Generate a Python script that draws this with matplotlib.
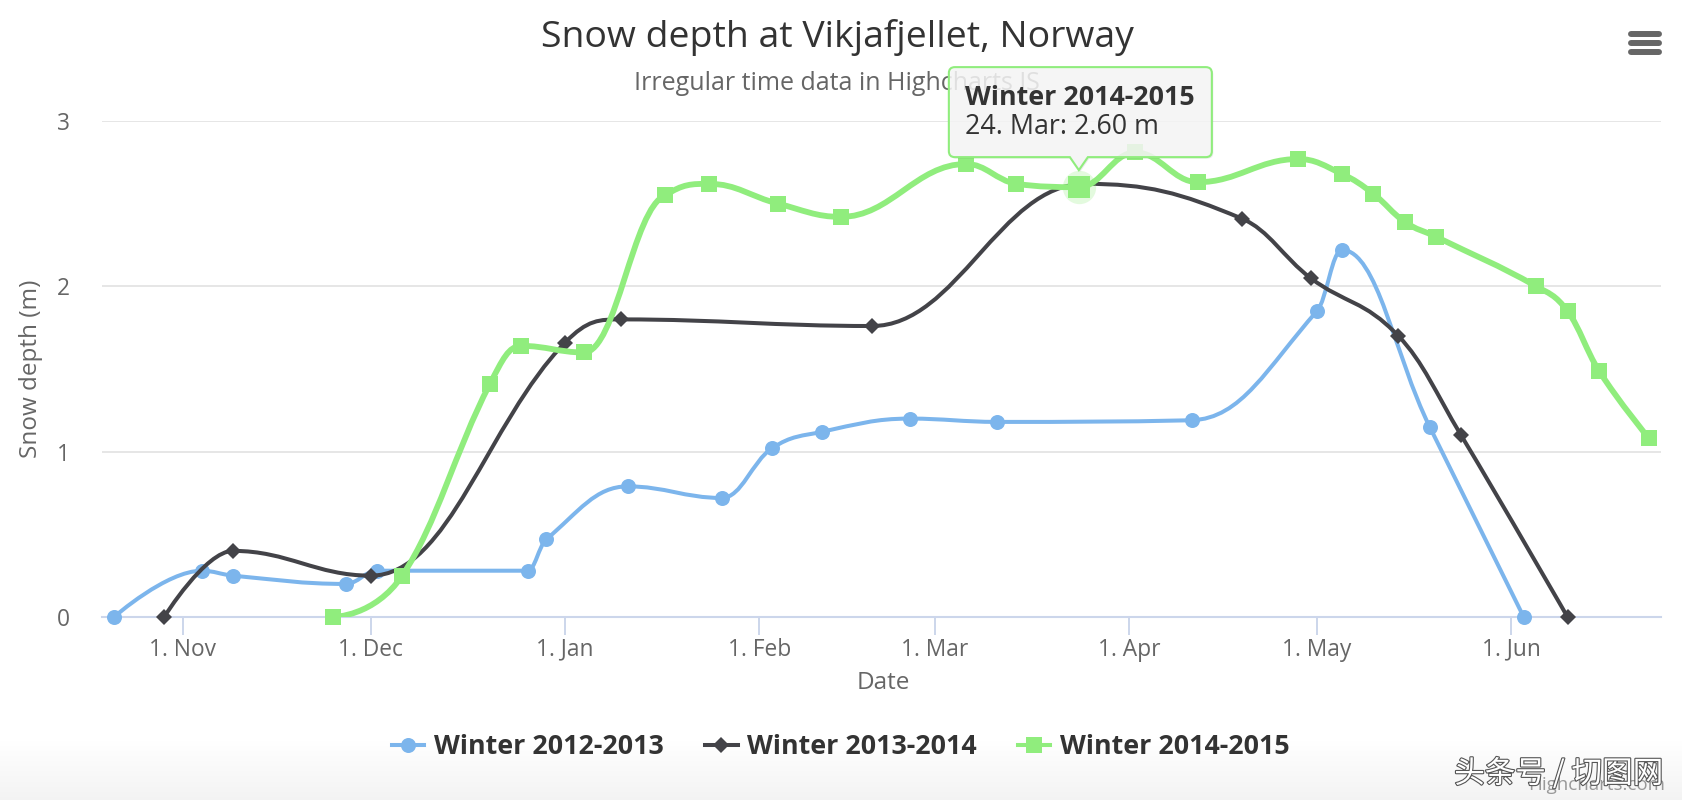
import numpy as np
import pandas as pd
import matplotlib
matplotlib.use('Agg')
import matplotlib.pyplot as plt
import matplotlib.dates as mdates
import matplotlib.patheffects as pe
from matplotlib.path import Path
from matplotlib.patches import PathPatch
from matplotlib.lines import Line2D
from matplotlib.transforms import IdentityTransform

plt.rcParams['font.family'] = ['Open Sans', 'DejaVu Sans']

# data (dates as in the Highcharts demo: year 1970/1971)
dates_1213 = ['1970-10-21', '1970-11-04', '1970-11-09', '1970-11-27', '1970-12-02',
              '1970-12-26', '1970-12-29', '1971-01-11', '1971-01-26', '1971-02-03',
              '1971-02-11', '1971-02-25', '1971-03-11', '1971-04-11', '1971-05-01',
              '1971-05-05', '1971-05-19', '1971-06-03']
depth_1213 = [0, 0.28, 0.25, 0.2, 0.28, 0.28, 0.47, 0.79, 0.72, 1.02,
              1.12, 1.2, 1.18, 1.19, 1.85, 2.22, 1.15, 0]

dates_1314 = ['1970-10-29', '1970-11-09', '1970-12-01', '1971-01-01', '1971-01-10',
              '1971-02-19', '1971-03-25', '1971-04-19', '1971-04-30', '1971-05-14',
              '1971-05-24', '1971-06-10']
depth_1314 = [0, 0.4, 0.25, 1.66, 1.8, 1.76, 2.62, 2.41, 2.05, 1.7, 1.1, 0]

dates_1415 = ['1970-11-25', '1970-12-06', '1970-12-20', '1970-12-25', '1971-01-04',
              '1971-01-17', '1971-01-24', '1971-02-04', '1971-02-14', '1971-03-06',
              '1971-03-14', '1971-03-24', '1971-04-02', '1971-04-12', '1971-04-28',
              '1971-05-05', '1971-05-10', '1971-05-15', '1971-05-20', '1971-06-05',
              '1971-06-10', '1971-06-15', '1971-06-23']
depth_1415 = [0, 0.25, 1.41, 1.64, 1.6, 2.55, 2.62, 2.5, 2.42, 2.74, 2.62, 2.6,
              2.81, 2.63, 2.77, 2.68, 2.56, 2.39, 2.3, 2, 1.85, 1.49, 1.08]

series_names = ['Winter 2012-2013', 'Winter 2013-2014', 'Winter 2014-2015']
series_colors = ['#7cb5ec', '#434348', '#90ed7d']
hover_index = 11  # point under the tooltip in the last series


def spline_path(xs, ys, smoothing=1.5):
    # same control point rule as the Highcharts spline series
    n = len(xs)
    lc = [None] * n
    rc = [None] * n
    den = smoothing + 1
    for i in range(1, n - 1):
        px, py = xs[i], ys[i]
        lx, ly = xs[i - 1], ys[i - 1]
        nx, ny = xs[i + 1], ys[i + 1]
        lcx = (smoothing * px + lx) / den
        lcy = (smoothing * py + ly) / den
        rcx = (smoothing * px + nx) / den
        rcy = (smoothing * py + ny) / den
        if rcx != lcx:
            corr = (rcy - lcy) * (rcx - px) / (rcx - lcx) + py - rcy
            lcy += corr
            rcy += corr
        if lcy > ly and lcy > py:
            lcy = max(ly, py)
            rcy = 2 * py - lcy
        elif lcy < ly and lcy < py:
            lcy = min(ly, py)
            rcy = 2 * py - lcy
        if rcy > ny and rcy > py:
            rcy = max(ny, py)
            lcy = 2 * py - rcy
        elif rcy < ny and rcy < py:
            rcy = min(ny, py)
            lcy = 2 * py - rcy
        lc[i] = (lcx, lcy)
        rc[i] = (rcx, rcy)
    verts = [(xs[0], ys[0])]
    codes = [Path.MOVETO]
    for i in range(1, n):
        c1 = rc[i - 1] if rc[i - 1] else (xs[i - 1], ys[i - 1])
        c2 = lc[i] if lc[i] else (xs[i], ys[i])
        verts += [c1, c2, (xs[i], ys[i])]
        codes += [Path.CURVE4] * 3
    return Path(verts, codes)


W, H = 1682, 800
fig = plt.figure(figsize=(W / 100, H / 100), dpi=100)
fig.patch.set_facecolor('white')

# faint grey fade at the bottom of the screenshot
band = fig.add_axes([0, 0, 1, 60 / H], zorder=-5)
shade = np.linspace(1.0, 0.955, 60)
band.imshow(np.dstack([shade, shade, shade]).reshape(-1, 1, 3), aspect='auto',
            extent=[0, 1, 0, 1])
band.set_axis_off()

ax = fig.add_axes([102 / W, 1 - 617 / H, 1559 / W, 496 / H])
ax.set_facecolor('none')

all_dates = [dates_1213, dates_1314, dates_1415]
all_depths = [depth_1213, depth_1314, depth_1415]
markers = ['o', 'D', 's']
msizes = [10.8, 8.2, 11.5]
lwidths = [2.9, 2.9, 4.2]

for k in range(3):
    x = mdates.date2num(pd.to_datetime(all_dates[k]))
    y = np.array(all_depths[k], dtype=float)
    ax.add_patch(PathPatch(spline_path(x, y), fill=False, edgecolor=series_colors[k],
                           lw=lwidths[k], capstyle='round', joinstyle='round',
                           zorder=3 + k))
    ax.plot(x, y, linestyle='none', marker=markers[k], ms=msizes[k],
            color=series_colors[k], mew=0, zorder=3 + k, clip_on=False)

# hovered point: halo + bigger square
hx = mdates.date2num(pd.to_datetime(dates_1415[hover_index]))
hy = depth_1415[hover_index]
ax.plot([hx], [hy], marker='o', ms=24, color=series_colors[2], alpha=0.25, mew=0,
        zorder=7, linestyle='none')
ax.plot([hx], [hy], marker='s', ms=15.5, color=series_colors[2], mew=0, zorder=8,
        linestyle='none')

ax.set_xlim(pd.Timestamp('1970-10-19 02:00'), pd.Timestamp('1971-06-24 22:00'))
ax.set_ylim(0, 3)

ax.xaxis.set_major_locator(mdates.MonthLocator())
ax.xaxis.set_major_formatter(plt.FuncFormatter(
    lambda v, pos: '%d. %s' % (mdates.num2date(v).day, mdates.num2date(v).strftime('%b'))))
ax.set_yticks([0, 1, 2, 3])
ax.set_yticklabels(['0', '1', '2', '3'])

for s in ['top', 'right', 'left']:
    ax.spines[s].set_visible(False)
ax.spines['bottom'].set_color('#ccd6eb')
ax.spines['bottom'].set_linewidth(1.5)
ax.spines['bottom'].set_zorder(2)
ax.grid(axis='y', color='#e6e6e6', lw=1.4, zorder=0)
ax.set_axisbelow(True)
ax.tick_params(axis='x', length=13, width=1.4, color='#ccd6eb', labelsize=16.4,
               labelcolor='#666666', pad=2)
ax.tick_params(axis='y', length=0, labelsize=16.4, labelcolor='#666666', pad=23)

ax.set_ylabel('Snow depth (m)', fontsize=17.5, color='#666666')
ax.yaxis.set_label_coords(-0.038, 0.5)
ax.set_xlabel('Date', fontsize=17.5, color='#666666')
ax.xaxis.set_label_coords(0.501, -0.108)

fig.text(837 / W, 1 - 37 / H, 'Snow depth at Vikjafjellet, Norway', ha='center',
         va='center', fontsize=26.9, color='#333333')
fig.text(837 / W, 1 - 84 / H, 'Irregular time data in Highcharts JS', ha='center',
         va='center', fontsize=18, color='#666666')

# legend
handles = [Line2D([], [], color=series_colors[k], lw=2.9, marker=markers[k],
                  ms=msizes[k], mew=0) for k in range(3)]
fig.legend(handles, series_names, loc='center', bbox_to_anchor=(841 / W, 1 - 747 / H),
           ncol=3, frameon=False, prop={'weight': 'bold', 'size': 19.3},
           labelcolor='#333333', handlelength=1.2, handletextpad=0.36,
           columnspacing=1.55)

# tooltip anchored on the hovered point
fig.canvas.draw()
px, py = ax.transData.transform((hx, hy))
left, right = px - 130, px + 133
top, bottom = py + 120, py + 30
tip, half, r = py + 17, 9, 6
verts = [(left + r, top), (right - r, top), (right, top), (right, top - r),
         (right, bottom + r), (right, bottom), (right - r, bottom),
         (px + half, bottom), (px, tip), (px - half, bottom),
         (left + r, bottom), (left, bottom), (left, bottom + r),
         (left, top - r), (left, top), (left + r, top), (left + r, top)]
codes = [Path.MOVETO, Path.LINETO, Path.CURVE3, Path.CURVE3,
         Path.LINETO, Path.CURVE3, Path.CURVE3,
         Path.LINETO, Path.LINETO, Path.LINETO,
         Path.LINETO, Path.CURVE3, Path.CURVE3,
         Path.LINETO, Path.CURVE3, Path.CURVE3, Path.CLOSEPOLY]
tip_path = Path(verts, codes)
shadow = Path(np.array(verts) + [1.5, -1.5], codes)
fig.add_artist(PathPatch(shadow, transform=IdentityTransform(), facecolor='black',
                         edgecolor='none', alpha=0.08, zorder=20))
fig.add_artist(PathPatch(tip_path, transform=IdentityTransform(),
                         facecolor=(0.97, 0.97, 0.97, 0.85), edgecolor=series_colors[2],
                         lw=1.5, zorder=21))
fig.text(left + 16, py + 89, series_names[2], transform=IdentityTransform(),
         fontsize=19.3, fontweight='bold', color='#333333', va='center', zorder=22)
fig.text(left + 16, py + 60, '%d. %s: %.2f m' % (pd.Timestamp(dates_1415[hover_index]).day,
                                                pd.Timestamp(dates_1415[hover_index]).strftime('%b'),
                                                hy),
         transform=IdentityTransform(), fontsize=19.3, color='#333333', va='center',
         zorder=22)

# context menu icon
for yy in [34, 43, 52]:
    fig.add_artist(Line2D([1631 / W, 1659 / W], [1 - yy / H, 1 - yy / H], color='#666666',
                          lw=4.3, solid_capstyle='round', transform=fig.transFigure))

# credits + watermark
fig.text(1665 / W, 1 - 785 / H, 'Highcharts.com', ha='right', va='center',
         fontsize=13.5, color='#999999')
fig.text(1663 / W, 1 - 774 / H, '头条号 / 切图网', ha='right', va='center', fontsize=22,
         color='white', family=['Noto Sans CJK SC', 'DejaVu Sans'],
         path_effects=[pe.withStroke(linewidth=1.6, foreground='#555555')])

fig.savefig('out.png', dpi=100)
